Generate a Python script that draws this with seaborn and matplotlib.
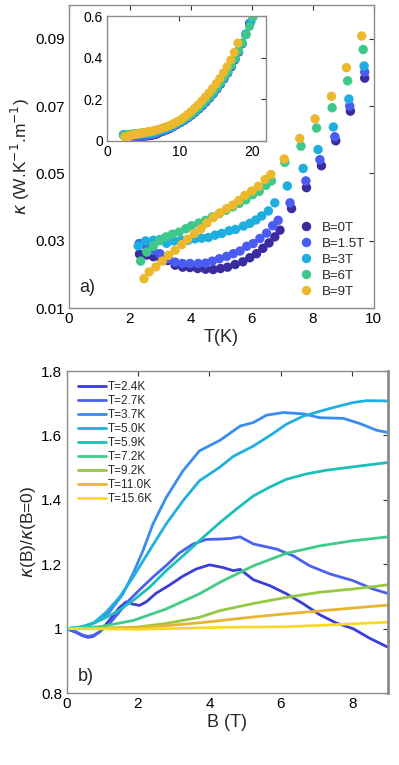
import matplotlib
matplotlib.use("Agg")
import matplotlib.pyplot as plt
import seaborn as sns
import pandas as pd

# ---------------- data: panel a) kappa(T) ----------------
field_labels = ["B=0T", "B=1.5T", "B=3T", "B=6T", "B=9T"]
field_colors = ["#3a2c9e", "#4a5cf2", "#1eaee0", "#3ec98a", "#ecb82e"]

T_0 = [2.31, 2.55, 2.77, 3.0, 3.24, 3.48, 3.73, 3.97, 4.22, 4.48, 4.73, 4.97, 5.2, 5.45, 5.7,
       5.93, 6.15, 6.36, 6.56, 6.75, 6.92, 7.30, 7.79, 8.28, 8.75, 9.23, 9.70]
k_0 = [0.0261, 0.0258, 0.0253, 0.0250, 0.0242, 0.0228, 0.0222, 0.0221, 0.0218, 0.0216, 0.0215,
       0.0218, 0.0222, 0.0230, 0.0238, 0.0250, 0.0262, 0.0278, 0.0294, 0.0312, 0.0332, 0.0396,
       0.0458, 0.0523, 0.0597, 0.0685, 0.0783]

T_15 = [2.30, 2.52, 2.75, 2.98, 3.26, 3.48, 3.72, 3.97, 4.24, 4.48, 4.70, 4.93, 5.17, 5.39, 5.61,
        5.83, 6.04, 6.26, 6.48, 6.68, 6.86, 7.25, 7.77, 8.23, 8.72, 9.21, 9.70]
k_15 = [0.0292, 0.0285, 0.0272, 0.0262, 0.0247, 0.0237, 0.0233, 0.0233, 0.0233, 0.0234, 0.0240,
        0.0247, 0.0254, 0.0262, 0.0270, 0.0284, 0.0292, 0.0307, 0.0323, 0.0345, 0.0361, 0.0413,
        0.0478, 0.0541, 0.0609, 0.0700, 0.0801]

T_3 = [2.27, 2.51, 2.77, 2.98, 3.20, 3.44, 3.69, 3.91, 4.13, 4.35, 4.57, 4.79, 5.01, 5.25, 5.46,
       5.72, 5.93, 6.13, 6.32, 6.54, 6.75, 7.16, 7.68, 8.17, 8.67, 9.18, 9.68]
k_3 = [0.0285, 0.0300, 0.0302, 0.0304, 0.0293, 0.0300, 0.0302, 0.0302, 0.0306, 0.0308, 0.0310,
       0.0317, 0.0322, 0.0330, 0.0334, 0.0344, 0.0352, 0.0362, 0.0374, 0.0389, 0.0413, 0.0463,
       0.0515, 0.0571, 0.0638, 0.0721, 0.0819]

T_6 = [2.35, 2.55, 2.76, 2.96, 3.18, 3.39, 3.61, 3.83, 4.02, 4.26, 4.48, 4.70, 4.93, 5.15, 5.37,
       5.58, 5.80, 6.02, 6.24, 6.46, 6.64, 7.08, 7.61, 8.12, 8.63, 9.14, 9.65]
k_6 = [0.0240, 0.0267, 0.0284, 0.0300, 0.0312, 0.0320, 0.0326, 0.0336, 0.0345, 0.0353, 0.0361,
       0.0371, 0.0381, 0.0391, 0.0401, 0.0411, 0.0422, 0.0437, 0.0447, 0.0465, 0.0478, 0.0533,
       0.0581, 0.0635, 0.0695, 0.0775, 0.0868]

T_9 = [2.46, 2.63, 2.85, 3.06, 3.26, 3.48, 3.70, 3.89, 4.11, 4.33, 4.52, 4.73, 4.95, 5.17, 5.37,
       5.57, 5.77, 5.99, 6.21, 6.43, 6.62, 7.06, 7.57, 8.07, 8.61, 9.10, 9.60]
k_9 = [0.0188, 0.0208, 0.0223, 0.0240, 0.0257, 0.0272, 0.0289, 0.0305, 0.0322, 0.0336, 0.0353,
       0.0369, 0.0383, 0.0396, 0.0406, 0.0420, 0.0435, 0.0448, 0.0462, 0.0482, 0.0497, 0.0543,
       0.0604, 0.0662, 0.0729, 0.0814, 0.0908]

# inset: higher-temperature continuation of the same series
Tx_0 = [10.2, 10.7, 11.2, 11.7, 12.2, 12.7, 13.2, 13.7, 14.2, 14.7, 15.2, 15.7, 16.2, 16.7, 17.2,
        17.7, 18.2, 18.7, 19.2, 19.7]
kx_0 = [0.088, 0.098, 0.110, 0.123, 0.137, 0.152, 0.168, 0.186, 0.205, 0.226, 0.248, 0.272, 0.298,
        0.326, 0.356, 0.390, 0.426, 0.466, 0.510, 0.565]
Tx_15 = [10.2, 10.7, 11.2, 11.7, 12.2, 12.7, 13.2, 13.7, 14.2, 14.7, 15.2, 15.7, 16.2, 16.7, 17.2,
         17.7, 18.2, 18.7, 19.2, 19.8]
kx_15 = [0.090, 0.100, 0.112, 0.125, 0.139, 0.154, 0.170, 0.188, 0.207, 0.228, 0.250, 0.274, 0.300,
         0.328, 0.359, 0.392, 0.428, 0.468, 0.512, 0.568]
Tx_3 = [10.2, 10.7, 11.2, 11.7, 12.2, 12.7, 13.2, 13.7, 14.2, 14.7, 15.2, 15.7, 16.2, 16.7, 17.2,
        17.7, 18.2, 18.7, 19.2, 19.9]
kx_3 = [0.092, 0.102, 0.114, 0.127, 0.141, 0.156, 0.172, 0.190, 0.209, 0.230, 0.252, 0.276, 0.302,
        0.330, 0.361, 0.394, 0.430, 0.470, 0.515, 0.572]
Tx_6 = [10.2, 10.7, 11.2, 11.7, 12.2, 12.7, 13.2, 13.7, 14.2, 14.7, 15.2, 15.7, 16.2, 16.7, 17.2,
        17.7, 18.2, 18.7, 19.2, 19.7, 20.2]
kx_6 = [0.096, 0.107, 0.119, 0.132, 0.147, 0.163, 0.180, 0.198, 0.217, 0.238, 0.260, 0.284, 0.309,
        0.336, 0.367, 0.400, 0.435, 0.470, 0.510, 0.550, 0.595]
Tx_9 = [10.1, 10.6, 11.1, 11.6, 12.1, 12.6, 13.1, 13.6, 14.1, 14.6, 15.1, 15.6, 16.1, 16.6, 17.1,
        17.6, 18.1]
kx_9 = [0.100, 0.112, 0.125, 0.140, 0.156, 0.173, 0.191, 0.210, 0.230, 0.252, 0.275, 0.300, 0.327,
        0.356, 0.388, 0.425, 0.470]

# ---------------- data: panel b) kappa(B)/kappa(0) ----------------
temp_labels = ["T=2.4K", "T=2.7K", "T=3.7K", "T=5.0K", "T=5.9K", "T=7.2K", "T=9.2K", "T=11.0K", "T=15.6K"]
temp_colors = ["#3c3cdc", "#4a62f0", "#3a8cf0", "#1fb0e0", "#1cc0b8", "#40cc88", "#96c840", "#e8b530", "#f8d828"]

B_24 = [0, 0.27, 0.45, 0.6, 0.75, 0.93, 1.2, 1.48, 1.67, 1.86, 2.04, 2.23, 2.51, 2.88, 3.26, 3.63,
        4.0, 4.37, 4.67, 4.86, 5.23, 5.7, 6.16, 6.63, 7.09, 7.56, 8.02, 8.49, 9.0]
v_24 = [1.0, 0.988, 0.978, 0.973, 0.976, 0.990, 1.026, 1.065, 1.083, 1.076, 1.072, 1.083, 1.110,
        1.135, 1.163, 1.185, 1.198, 1.190, 1.180, 1.184, 1.152, 1.133, 1.108, 1.077, 1.043, 1.017,
        1.000, 0.970, 0.942]

B_27 = [0, 0.27, 0.45, 0.6, 0.75, 0.93, 1.2, 1.48, 1.76, 2.04, 2.42, 2.79, 3.16, 3.53, 3.91, 4.3,
        4.6, 4.86, 5.23, 5.88, 6.35, 6.81, 7.37, 8.02, 8.58, 9.0]
v_27 = [1.0, 0.990, 0.980, 0.976, 0.979, 0.990, 1.015, 1.052, 1.089, 1.120, 1.160, 1.196, 1.235,
        1.262, 1.277, 1.278, 1.280, 1.285, 1.263, 1.247, 1.226, 1.195, 1.170, 1.149, 1.123, 1.109]

B_37 = [0, 0.46, 0.83, 1.2, 1.58, 1.86, 2.14, 2.42, 2.79, 3.26, 3.72, 4.3, 4.86, 5.23, 5.6, 6.07,
        6.63, 7.09, 7.75, 8.21, 8.68, 9.0]
v_37 = [1.0, 1.005, 1.020, 1.051, 1.108, 1.170, 1.242, 1.325, 1.407, 1.490, 1.552, 1.585, 1.629,
        1.640, 1.663, 1.671, 1.667, 1.655, 1.653, 1.637, 1.616, 1.609]

B_50 = [0, 0.37, 0.74, 1.11, 1.48, 1.86, 2.32, 2.79, 3.26, 3.72, 4.3, 4.67, 5.23, 5.7, 6.16, 6.63,
        7.28, 8.02, 8.4, 9.0]
v_50 = [1.0, 1.004, 1.016, 1.051, 1.097, 1.159, 1.242, 1.325, 1.397, 1.459, 1.502, 1.535, 1.567,
        1.600, 1.635, 1.660, 1.681, 1.702, 1.708, 1.707]

B_59 = [0, 0.46, 0.93, 1.39, 1.86, 2.32, 2.79, 3.26, 3.72, 4.3, 4.8, 5.23, 5.7, 6.16, 6.7, 7.28,
        8.21, 9.0]
v_59 = [1.0, 1.006, 1.025, 1.051, 1.087, 1.128, 1.180, 1.226, 1.273, 1.330, 1.375, 1.412, 1.440,
        1.464, 1.480, 1.492, 1.505, 1.516]

B_72 = [0, 0.93, 1.86, 2.79, 3.72, 4.3, 5.23, 6.16, 7.09, 8.02, 9.0]
v_72 = [1.0, 1.006, 1.025, 1.061, 1.108, 1.144, 1.195, 1.234, 1.257, 1.273, 1.285]

B_92 = [0, 1.0, 2.0, 2.79, 3.72, 4.3, 5.23, 6.16, 7.09, 8.02, 9.0]
v_92 = [1.0, 1.001, 1.005, 1.016, 1.035, 1.056, 1.078, 1.097, 1.113, 1.123, 1.136]

B_110 = [0, 1.0, 2.0, 2.79, 3.72, 4.47, 5.3, 6.16, 7.1, 8.02, 9.0]
v_110 = [1.0, 1.001, 1.004, 1.009, 1.018, 1.027, 1.037, 1.046, 1.055, 1.064, 1.073]

B_156 = [0, 1.0, 2.0, 3.0, 4.3, 5.3, 6.16, 7.1, 8.02, 9.0]
v_156 = [1.0, 0.999, 0.998, 1.0, 1.004, 1.005, 1.006, 1.010, 1.015, 1.020]

# ---------------- build tables ----------------
main_T = [T_0, T_15, T_3, T_6, T_9]
main_k = [k_0, k_15, k_3, k_6, k_9]
ext_T = [Tx_0, Tx_15, Tx_3, Tx_6, Tx_9]
ext_k = [kx_0, kx_15, kx_3, kx_6, kx_9]

rows = []
for lab, ts, ks in zip(field_labels, main_T, main_k):
    rows += [(lab, t, k) for t, k in zip(ts, ks)]
df_main = pd.DataFrame(rows, columns=["field", "T", "kappa"])
rows = []
for lab, ts, ks, tx, kx in zip(field_labels, main_T, main_k, ext_T, ext_k):
    rows += [(lab, t, k) for t, k in zip(list(ts) + list(tx), list(ks) + list(kx))]
df_inset = pd.DataFrame(rows, columns=["field", "T", "kappa"])

Bs = [B_24, B_27, B_37, B_50, B_59, B_72, B_92, B_110, B_156]
vs = [v_24, v_27, v_37, v_50, v_59, v_72, v_92, v_110, v_156]
rows = []
for lab, bb, vv in zip(temp_labels, Bs, vs):
    rows += [(lab, b, v) for b, v in zip(bb, vv)]
df_b = pd.DataFrame(rows, columns=["temp", "B", "ratio"])

# ---------------- style ----------------
sns.set_style("white")
plt.rcParams["font.family"] = ["Liberation Sans", "DejaVu Sans"]
plt.rcParams["mathtext.fontset"] = "dejavusans"
spine_c = "#8c8c8c"

fig = plt.figure(figsize=(3.99, 7.65), dpi=100)
ax1 = fig.add_axes([0.173, 0.597, 0.764, 0.3965])
axi = fig.add_axes([0.268, 0.816, 0.399, 0.163])
ax2 = fig.add_axes([0.1667, 0.0941, 0.8057, 0.4209])

pal_f = dict(zip(field_labels, field_colors))
pal_t = dict(zip(temp_labels, temp_colors))

# panel a
sns.scatterplot(data=df_main, x="T", y="kappa", hue="field", palette=pal_f, hue_order=field_labels,
                s=46, linewidth=0, ax=ax1, legend=True)
ax1.set_xlim(0, 10)
ax1.set_ylim(0.01, 0.1)
ax1.set_xticks([0, 2, 4, 6, 8, 10])
ax1.set_yticks([0.01, 0.03, 0.05, 0.07, 0.09])
ax1.set_yticklabels(["0.01", "0.03", "0.05", "0.07", "0.09"])
ax1.set_xlabel("T(K)", fontsize=13, labelpad=2)
ax1.set_ylabel(r"$\kappa$ (W.K$^{-1}$.m$^{-1}$)", fontsize=12.5, labelpad=2)
ax1.legend(loc="lower right", bbox_to_anchor=(1.0, 0.005), frameon=False, fontsize=9.5,
           handletextpad=0.2, labelspacing=0.28, borderpad=0.2, markerscale=1.0)
ax1.text(0.035, 0.069, "a)", transform=ax1.transAxes, fontsize=13, va="center")

# inset
sns.scatterplot(data=df_inset, x="T", y="kappa", hue="field", palette=pal_f, hue_order=field_labels,
                s=42, linewidth=0, ax=axi, legend=False)
axi.set_xlim(0, 22)
axi.set_ylim(0, 0.6)
axi.set_xticks([0, 10, 20])
axi.set_yticks([0, 0.2, 0.4, 0.6])
axi.set_yticklabels(["0", "0.2", "0.4", "0.6"])
axi.set_xlabel("")
axi.set_ylabel("")

# panel b
sns.lineplot(data=df_b, x="B", y="ratio", hue="temp", palette=pal_t, hue_order=temp_labels,
             linewidth=2.0, ax=ax2, sort=False)
ax2.set_xlim(0, 9)
ax2.set_ylim(0.8, 1.8)
ax2.set_xticks([0, 2, 4, 6, 8])
ax2.set_yticks([0.8, 1.0, 1.2, 1.4, 1.6, 1.8])
ax2.set_yticklabels(["0.8", "1", "1.2", "1.4", "1.6", "1.8"])
ax2.set_xlabel("B (T)", fontsize=13, labelpad=2)
ax2.set_ylabel(r"$\kappa$(B)/$\kappa$(B=0)", fontsize=12.5, labelpad=2)
ax2.legend(loc="upper left", bbox_to_anchor=(0.01, 0.995), frameon=False, fontsize=8.5,
           handlelength=2.4, handletextpad=0.15, labelspacing=0.17, borderpad=0.2)
ax2.text(0.035, 0.05, "b)", transform=ax2.transAxes, fontsize=13, va="center")

for ax, fs in [(ax1, 11), (axi, 10), (ax2, 11)]:
    ax.tick_params(direction="in", top=True, right=True, length=3.5, width=0.8,
                   labelsize=fs, colors="black", pad=3)
    for sp in ax.spines.values():
        sp.set_color(spine_c)
        sp.set_linewidth(1.0)
    ax.tick_params(axis="both", color="#333333")
ax2.spines["right"].set_linewidth(2.0)

fig.savefig("out.png", dpi=100)
